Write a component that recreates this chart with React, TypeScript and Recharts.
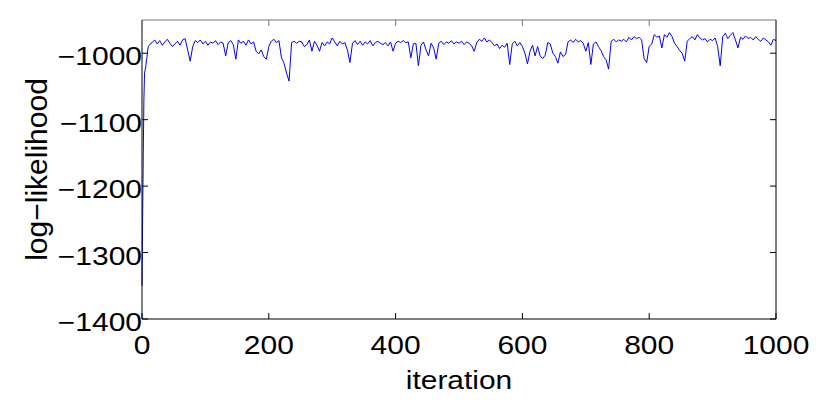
import React from "react";
import { LineChart, Line, XAxis, YAxis } from "recharts";

// first few iterations, taken one by one (the chain climbs fast here)
const burnInIterations = [0, 1, 2, 3, 4, 5, 6, 7, 8, 9, 10];
const burnInLogLik = [-1350, -1250, -1150, -1070, -1030, -1025, -1020, -1010, -1005, -995, -990];

// after that, one reading every 4 iterations from 12 up to 1000
const sampleStart = 12;
const sampleStep = 4;
const sampleLogLik = [
  -987, -984, -980, -986, -981, -988, -983, -979, -985, -990,
  -986, -982, -988, -980, -978, -995, -1012, -990, -981, -984,
  -980, -986, -982, -988, -983, -985, -981, -987, -983, -985,
  -1004, -984, -981, -987, -1009, -980, -985, -982, -988, -980,
  -986, -983, -997, -1001, -995, -1005, -1009, -990, -982, -979,
  -984, -981, -1007, -1015, -1030, -1042, -984, -982, -985, -982,
  -983, -990, -987, -980, -997, -982, -988, -997, -984, -989,
  -983, -986, -977, -983, -989, -982, -986, -984, -995, -1014,
  -985, -981, -987, -982, -988, -983, -986, -981, -989, -984,
  -982, -985, -987, -984, -989, -983, -997, -985, -982, -984,
  -981, -984, -983, -1007, -986, -985, -1019, -988, -983, -995,
  -1004, -985, -992, -1009, -985, -982, -987, -983, -985, -981,
  -986, -983, -985, -982, -987, -983, -985, -989, -997, -984,
  -979, -982, -977, -983, -980, -984, -989, -986, -993, -988,
  -991, -985, -1017, -986, -982, -989, -984, -990, -1000, -1016,
  -997, -988, -1004, -990, -1004, -1008, -1003, -984, -986, -1000,
  -1005, -1015, -998, -1005, -1002, -983, -980, -984, -979, -983,
  -981, -985, -997, -984, -1017, -986, -983, -990, -996, -1005,
  -1010, -1024, -982, -979, -983, -980, -982, -979, -983, -976,
  -980, -975, -978, -976, -980, -1008, -1014, -990, -986, -972,
  -976, -974, -992, -972, -976, -969, -975, -985, -990, -996,
  -1000, -1012, -982, -978, -975, -980, -972, -977, -980, -978,
  -983, -979, -981, -977, -990, -1019, -975, -970, -978, -973,
  -969, -980, -992, -976, -979, -974, -978, -976, -980, -975,
  -979, -982, -977, -980, -983, -988, -979, -981,
];

const xTicks = [0, 200, 400, 600, 800, 1000];
const yTicks = [-1400, -1300, -1200, -1100, -1000];

const data = [
  ...burnInIterations.map((it, i) => ({ iteration: it, logLik: burnInLogLik[i] })),
  ...sampleLogLik.map((v, i) => ({ iteration: sampleStart + i * sampleStep, logLik: v })),
];

const FONT = "'Liberation Sans', Arial, Helvetica, sans-serif";
const TICK_LEN = 6;
const STRETCH = 1.2; // the original figure text is a bit wide

const fmt = (v: number) => (v < 0 ? "\u2212" + Math.abs(v) : String(v));

function BottomTick(props: any) {
  const { x, y, payload } = props;
  return (
    <g>
      <line x1={x} y1={y} x2={x} y2={y - TICK_LEN} stroke="#000" />
      <text
        transform={`translate(${x},${y + 35}) scale(${STRETCH},1)`}
        textAnchor="middle"
        fontFamily={FONT}
        fontSize={25}
        fill="#000"
      >
        {fmt(payload.value)}
      </text>
    </g>
  );
}

function TopTick(props: any) {
  const { x, y } = props;
  return <line x1={x} y1={y} x2={x} y2={y + TICK_LEN} stroke="#777" />;
}

function LeftTick(props: any) {
  const { x, y, payload } = props;
  return (
    <g>
      <line x1={x} y1={y} x2={x + TICK_LEN} y2={y} stroke="#000" />
      <text
        transform={`translate(${x},${y + 12}) scale(${STRETCH},1)`}
        textAnchor="end"
        fontFamily={FONT}
        fontSize={25}
        fill="#000"
      >
        {fmt(payload.value)}
      </text>
    </g>
  );
}

function RightTick(props: any) {
  const { x, y } = props;
  return <line x1={x} y1={y} x2={x - TICK_LEN} y2={y} stroke="#000" />;
}

function XLabel(props: any) {
  const { viewBox } = props;
  const cx = viewBox.x + viewBox.width / 2;
  return (
    <text
      transform={`translate(${cx},389) scale(1.15,1)`}
      textAnchor="middle"
      fontFamily={FONT}
      fontSize={26}
      fill="#000"
    >
      iteration
    </text>
  );
}

function YLabel(props: any) {
  const { viewBox } = props;
  const cy = viewBox.y + viewBox.height / 2;
  return (
    <text
      transform={`translate(47,${cy}) rotate(-90)`}
      textAnchor="middle"
      fontFamily={FONT}
      fontSize={30}
      fill="#000"
    >
      log{"\u2212"}likelihood
    </text>
  );
}

export default function App() {
  return (
    <div style={{ position: "fixed", left: 0, top: 0, width: 831, height: 408, background: "#fff" }}>
      <LineChart
        width={831}
        height={408}
        data={data}
        margin={{ top: 19, right: 54, bottom: 0, left: 0 }}
      >
        <XAxis
          dataKey="iteration"
          type="number"
          domain={[0, 1000]}
          ticks={xTicks}
          height={89}
          tickSize={0}
          tickMargin={0}
          axisLine={{ stroke: "#000" }}
          tick={<BottomTick />}
          interval={0}
          label={{ content: (p: any) => <XLabel {...p} /> }}
        />
        <XAxis
          xAxisId="top"
          dataKey="iteration"
          orientation="top"
          type="number"
          domain={[0, 1000]}
          allowDataOverflow
          ticks={xTicks}
          height={1}
          tickSize={0}
          tickMargin={0}
          axisLine={{ stroke: "#777" }}
          tick={<TopTick />}
          interval={0}
        />
        <YAxis
          type="number"
          domain={[-1400, -950]}
          ticks={yTicks}
          width={142}
          tickSize={0}
          tickMargin={0}
          axisLine={{ stroke: "#000" }}
          tick={<LeftTick />}
          interval={0}
          label={{ content: (p: any) => <YLabel {...p} /> }}
        />
        <YAxis
          yAxisId="right"
          orientation="right"
          type="number"
          domain={[-1400, -950]}
          allowDataOverflow
          ticks={yTicks}
          width={1}
          tickSize={0}
          tickMargin={0}
          axisLine={{ stroke: "#000" }}
          tick={<RightTick />}
          interval={0}
        />
        {/* invisible copy bound to the top/right axes so the box axes get drawn */}
        <Line
          xAxisId="top"
          yAxisId="right"
          type="linear"
          dataKey="logLik"
          stroke="none"
          dot={false}
          activeDot={false}
          legendType="none"
          isAnimationActive={false}
        />
        <Line
          type="linear"
          dataKey="logLik"
          stroke="#0000ff"
          strokeWidth={1}
          dot={false}
          isAnimationActive={false}
        />
      </LineChart>
    </div>
  );
}
